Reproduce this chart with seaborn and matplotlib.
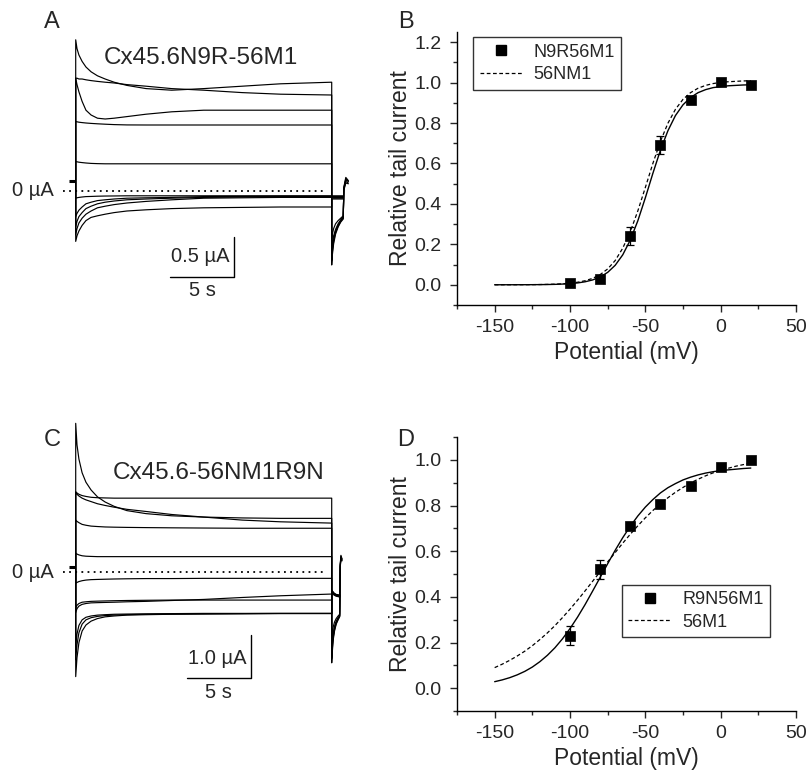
import matplotlib
matplotlib.use("Agg")
import matplotlib.pyplot as plt
from matplotlib.lines import Line2D
from matplotlib.ticker import MultipleLocator, FormatStrFormatter
import pandas as pd
import seaborn as sns

sns.set_style("ticks")
plt.rcParams['font.family'] = ['Liberation Sans', 'DejaVu Sans']
plt.rcParams['axes.unicode_minus'] = False

W, H = 808, 774

# ---------------- current traces (panels A and C) ----------------
step_t = [0, 0.1, 0.25, 0.5, 0.8, 1.2, 1.7, 2.3, 3, 4, 5.5, 7.5, 10, 13, 16, 20]

# panel A: Cx45.6N9R-56M1, currents in uA
a_steps = [
    [1.89, 1.78, 1.70, 1.62, 1.55, 1.49, 1.44, 1.40, 1.36, 1.32, 1.28, 1.26, 1.28, 1.31, 1.34, 1.36],
    [1.41, 1.41, 1.40, 1.40, 1.39, 1.38, 1.37, 1.36, 1.35, 1.33, 1.31, 1.28, 1.26, 1.23, 1.21, 1.20],
    [1.41, 1.33, 1.24, 1.12, 1.01, 0.95, 0.91, 0.90, 0.91, 0.93, 0.96, 0.99, 1.01, 1.01, 1.01, 1.01],
    [0.87, 0.865, 0.86, 0.855, 0.85, 0.845, 0.84, 0.835, 0.83, 0.826, 0.825, 0.825, 0.825, 0.825, 0.825, 0.825],
    [0.37, 0.365, 0.36, 0.355, 0.35, 0.345, 0.342, 0.34, 0.34, 0.34, 0.34, 0.34, 0.34, 0.34, 0.34, 0.34],
    [-0.09, -0.085, -0.08, -0.075, -0.07, -0.068, -0.065, -0.063, -0.062, -0.06, -0.06, -0.06, -0.06, -0.06, -0.06, -0.06],
    [-0.32, -0.28, -0.24, -0.20, -0.16, -0.14, -0.12, -0.11, -0.10, -0.09, -0.085, -0.08, -0.07, -0.068, -0.065, -0.065],
    [-0.45, -0.38, -0.32, -0.27, -0.22, -0.19, -0.16, -0.14, -0.125, -0.11, -0.10, -0.09, -0.08, -0.075, -0.07, -0.07],
    [-0.55, -0.47, -0.40, -0.34, -0.29, -0.25, -0.21, -0.19, -0.17, -0.15, -0.13, -0.11, -0.09, -0.085, -0.08, -0.08],
    [-0.63, -0.56, -0.50, -0.43, -0.37, -0.33, -0.31, -0.29, -0.27, -0.25, -0.235, -0.22, -0.21, -0.205, -0.20, -0.20],
]
a_tail_t = [20, 20.05, 20.15, 20.3, 20.5, 20.7, 20.9]
a_tails = [
    [-0.925, -0.80, -0.66, -0.54, -0.45, -0.39, -0.35],
    [-0.87, -0.76, -0.63, -0.52, -0.44, -0.38, -0.34],
    [-0.82, -0.72, -0.60, -0.50, -0.43, -0.37, -0.33],
    [-0.75, -0.66, -0.56, -0.48, -0.41, -0.36, -0.32],
    [-0.60, -0.54, -0.47, -0.41, -0.37, -0.34, -0.31],
    [-0.07, -0.07, -0.07, -0.07, -0.07, -0.07, -0.07],
    [-0.06, -0.06, -0.06, -0.06, -0.06, -0.06, -0.06],
    [-0.07, -0.075, -0.08, -0.08, -0.08, -0.08, -0.08],
    [-0.08, -0.085, -0.09, -0.09, -0.09, -0.09, -0.09],
    [-0.10, -0.10, -0.10, -0.10, -0.10, -0.10, -0.10],
]
a_flag_t = [20.95, 21.1, 21.3]
a_flags = [
    [0.05, 0.17, 0.13],
    [0.04, 0.15, 0.12],
    [0.03, 0.14, 0.12],
    [0.02, 0.12, 0.10],
    [0.01, 0.10, 0.09],
]

# panel C: Cx45.6-56NM1R9N
c_steps = [
    [3.45, 2.95, 2.62, 2.30, 2.08, 1.90, 1.74, 1.62, 1.52, 1.42, 1.35, 1.30, 1.27, 1.25, 1.24, 1.24],
    [1.86, 1.83, 1.80, 1.77, 1.75, 1.73, 1.72, 1.715, 1.71, 1.71, 1.71, 1.71, 1.71, 1.71, 1.71, 1.71],
    [1.84, 1.80, 1.76, 1.71, 1.67, 1.63, 1.58, 1.54, 1.50, 1.45, 1.40, 1.33, 1.27, 1.20, 1.16, 1.13],
    [1.20, 1.17, 1.14, 1.10, 1.08, 1.06, 1.05, 1.04, 1.035, 1.03, 1.025, 1.02, 1.015, 1.01, 1.01, 1.01],
    [0.43, 0.41, 0.39, 0.37, 0.36, 0.355, 0.35, 0.35, 0.35, 0.35, 0.35, 0.35, 0.35, 0.35, 0.35, 0.35],
    [-0.27, -0.25, -0.23, -0.21, -0.195, -0.185, -0.18, -0.175, -0.17, -0.165, -0.16, -0.16, -0.155, -0.155, -0.155, -0.155],
    [-0.95, -0.86, -0.80, -0.76, -0.74, -0.725, -0.72, -0.715, -0.71, -0.70, -0.69, -0.67, -0.645, -0.60, -0.56, -0.52],
    [-0.85, -0.78, -0.74, -0.71, -0.70, -0.69, -0.685, -0.68, -0.675, -0.67, -0.665, -0.66, -0.66, -0.66, -0.66, -0.66],
    [-1.74, -1.45, -1.25, -1.12, -1.06, -1.03, -1.01, -1.00, -0.99, -0.985, -0.98, -0.975, -0.97, -0.97, -0.97, -0.97],
    [-2.05, -1.70, -1.42, -1.22, -1.12, -1.07, -1.04, -1.02, -1.01, -1.00, -0.99, -0.985, -0.98, -0.975, -0.97, -0.97],
    [-2.44, -2.00, -1.65, -1.38, -1.24, -1.15, -1.09, -1.05, -1.03, -1.01, -1.00, -0.99, -0.985, -0.98, -0.975, -0.975],
]
c_tail_t = [20, 20.05, 20.12, 20.22, 20.35, 20.5, 20.62]
c_tails = [
    [-2.12, -1.85, -1.58, -1.38, -1.22, -1.12, -1.05],
    [-2.02, -1.78, -1.53, -1.35, -1.20, -1.10, -1.04],
    [-1.92, -1.70, -1.48, -1.31, -1.18, -1.09, -1.03],
    [-1.80, -1.61, -1.42, -1.27, -1.15, -1.07, -1.02],
    [-1.55, -1.42, -1.28, -1.17, -1.09, -1.03, -0.99],
    [-0.43, -0.45, -0.48, -0.51, -0.53, -0.54, -0.55],
    [-0.43, -0.45, -0.48, -0.51, -0.53, -0.54, -0.55],
    [-0.45, -0.46, -0.49, -0.52, -0.54, -0.55, -0.56],
    [-0.47, -0.48, -0.50, -0.53, -0.55, -0.56, -0.57],
    [-0.48, -0.49, -0.51, -0.54, -0.56, -0.57, -0.58],
    [-0.50, -0.51, -0.53, -0.55, -0.57, -0.58, -0.59],
]
c_flag_t = [20.66, 20.72, 20.8]
c_flags = [
    [0.15, 0.38, 0.30],
    [0.13, 0.36, 0.29],
    [0.11, 0.34, 0.28],
    [0.10, 0.32, 0.26],
    [0.08, 0.30, 0.25],
]

# ---------------- tail current vs potential (panels B and D) ----------------
v_data = [-100, -80, -60, -40, -20, 0, 20]
b_mean = [0.01, 0.03, 0.24, 0.69, 0.915, 1.005, 0.99]
b_err = [0.01, 0.01, 0.045, 0.045, 0.012, 0.01, 0.01]
d_mean = [0.23, 0.52, 0.71, 0.805, 0.885, 0.97, 1.0]
d_err = [0.042, 0.04, 0.015, 0.01, 0.01, 0.01, 0.01]

v_fit = list(range(-150, 25, 5))
b_fit = [0.0, 0.0001, 0.0001, 0.0002, 0.0003, 0.0005, 0.0008, 0.0013, 0.0021, 0.0035, 0.0056,
         0.0091, 0.0148, 0.0239, 0.0385, 0.0614, 0.0964, 0.148, 0.221, 0.316, 0.430,
         0.551, 0.665, 0.762, 0.837, 0.890, 0.926, 0.950, 0.965, 0.975, 0.980,
         0.984, 0.986, 0.988, 0.989]
b_ref = [0.0001, 0.0001, 0.0002, 0.0003, 0.0005, 0.0007, 0.0012, 0.0019, 0.0030, 0.0049, 0.0078,
         0.0125, 0.0200, 0.0317, 0.0502, 0.0783, 0.120, 0.181, 0.262, 0.365, 0.481,
         0.600, 0.709, 0.799, 0.868, 0.917, 0.950, 0.972, 0.986, 0.995, 1.001,
         1.004, 1.006, 1.008, 1.009]
d_fit = [0.0284, 0.0362, 0.0460, 0.0584, 0.0736, 0.0925, 0.116, 0.144, 0.177, 0.216, 0.261,
         0.311, 0.366, 0.425, 0.485, 0.545, 0.604, 0.659, 0.709, 0.754, 0.793,
         0.826, 0.855, 0.878, 0.896, 0.912, 0.924, 0.934, 0.942, 0.948, 0.953,
         0.956, 0.959, 0.962, 0.964]
d_ref = [0.090, 0.105, 0.122, 0.141, 0.162, 0.186, 0.213, 0.242, 0.274, 0.309, 0.346,
         0.385, 0.426, 0.468, 0.510, 0.553, 0.594, 0.635, 0.674, 0.711, 0.746,
         0.778, 0.807, 0.834, 0.858, 0.879, 0.899, 0.915, 0.930, 0.943, 0.954,
         0.963, 0.972, 0.979, 0.985]


def px(x, y):
    return x / W, 1 - y / H


def traces_frame(steps, tail_t, tails, flag_t, flags):
    rows = []
    for k, (s, tl) in enumerate(zip(steps, tails)):
        ts = [0] + step_t + tail_t
        vs = [0] + s + tl
        if k < len(flags):
            ts = ts + flag_t
            vs = vs + flags[k]
        rows += [dict(trace=k, t=t, I=v) for t, v in zip(ts, vs)]
    return pd.DataFrame(rows)


def trace_panel(ax, df, ylim, bar_uA, bar_t, bar_y, hold):
    sns.lineplot(data=df, x='t', y='I', units='trace', estimator=None, sort=False,
                 color='k', lw=0.85, ax=ax, legend=False)
    ax.plot([-1.0, 19.3], [0, 0], color='k', lw=1.3, ls=(0, (1, 2.4)))
    ax.plot([-0.5, -0.05], [hold, hold], color='k', lw=2.2, solid_capstyle='butt')
    # scale bars
    ax.plot([bar_t - 5, bar_t, bar_t], [bar_y, bar_y, bar_y + bar_uA], color='k', lw=1.0)
    ax.set_xlim(-2.79, 22.21)
    ax.set_ylim(*ylim)
    ax.axis('off')


def iv_panel(ax, mean, err, fit, ref, ylim, yticks):
    sns.lineplot(x=v_fit, y=fit, ax=ax, color='k', lw=1.0, estimator=None, sort=False)
    sns.lineplot(x=v_fit, y=ref, ax=ax, color='k', lw=0.9, estimator=None, sort=False,
                 linestyle=(0, (3, 2)))
    ax.errorbar(v_data, mean, yerr=err, fmt='none', ecolor='k', elinewidth=0.9,
                capsize=3, capthick=0.9, zorder=3)
    sns.scatterplot(x=v_data, y=mean, ax=ax, marker='s', s=50, color='k',
                    edgecolor='k', linewidth=0.5, zorder=4)
    ax.set_xlim(-175, 50)
    ax.set_ylim(*ylim)
    ax.set_xticks([-150, -100, -50, 0, 50])
    ax.set_yticks(yticks)
    ax.yaxis.set_major_formatter(FormatStrFormatter('%.1f'))
    ax.xaxis.set_minor_locator(MultipleLocator(25))
    ax.yaxis.set_minor_locator(MultipleLocator(0.1))
    ax.tick_params(which='major', direction='out', length=5, width=1, labelsize=14, pad=5)
    ax.tick_params(axis='y', which='major', pad=6)
    ax.tick_params(which='minor', direction='out', length=3, width=1)
    for sp in ('left', 'bottom'):
        ax.spines[sp].set_linewidth(1.0)
        ax.spines[sp].set_color('k')
    sns.despine(ax=ax)
    ax.set_xlabel('Potential (mV)', fontsize=16.5, labelpad=4)
    ax.set_ylabel('Relative tail current', fontsize=16.5, labelpad=2)


fig = plt.figure(figsize=(W / 100, H / 100), dpi=100)

# panel A
axA = fig.add_axes([40 / W, 1 - 300 / H, 320 / W, 280 / H])
trace_panel(axA, traces_frame(a_steps, a_tail_t, a_tails, a_flag_t, a_flags),
            (-1.3625, 2.1375), 0.5, 12.37, -1.075, 0.125)

# panel C
axC = fig.add_axes([40 / W, 1 - 720 / H, 320 / W, 310 / H])
trace_panel(axC, traces_frame(c_steps, c_tail_t, c_tails, c_flag_t, c_flags),
            (-3.449, 3.760), 1.0, 13.67, -2.472, 0.12)

# panel B
axB = fig.add_axes([457 / W, 1 - 305 / H, 339 / W, 273 / H])
iv_panel(axB, b_mean, b_err, b_fit, b_ref, (-0.1, 1.25), [0.0, 0.2, 0.4, 0.6, 0.8, 1.0, 1.2])
handles = [Line2D([], [], ls='none', marker='s', ms=7, color='k'),
           Line2D([], [], color='k', lw=0.9, ls=(0, (3, 2)))]
legB = axB.legend(handles, ['N9R56M1', '56NM1'], loc='upper left', bbox_to_anchor=(0.048, 0.98),
                  borderaxespad=0, fontsize=13, frameon=True, fancybox=False, edgecolor='k',
                  handlelength=2.4, handletextpad=0.6, borderpad=0.35, labelspacing=0.3)
legB.get_frame().set_linewidth(1.0)

# panel D
axD = fig.add_axes([457 / W, 1 - 711 / H, 339 / W, 274 / H])
iv_panel(axD, d_mean, d_err, d_fit, d_ref, (-0.1, 1.1), [0.0, 0.2, 0.4, 0.6, 0.8, 1.0])
handles = [Line2D([], [], ls='none', marker='s', ms=7, color='k'),
           Line2D([], [], color='k', lw=0.9, ls=(0, (3, 2)))]
legD = axD.legend(handles, ['R9N56M1', '56M1'], loc='upper left', bbox_to_anchor=(0.486, 0.46),
                  borderaxespad=0, fontsize=13, frameon=True, fancybox=False, edgecolor='k',
                  handlelength=2.4, handletextpad=0.6, borderpad=0.35, labelspacing=0.3)
legD.get_frame().set_linewidth(1.0)

# texts
for lab, (x, y) in zip(['A', 'B', 'C', 'D'], [(52, 22), (406, 22), (52, 440), (406, 440)]):
    fig.text(*px(x, y), lab, fontsize=17, ha='center', va='center')
fig.text(*px(201, 58), 'Cx45.6N9R-56M1', fontsize=17.5, ha='center', va='center')
fig.text(*px(219, 473), 'Cx45.6-56NM1R9N', fontsize=17.5, ha='center', va='center')
fig.text(*px(54, 191), '0 \u00b5A', fontsize=14.5, ha='right', va='center')
fig.text(*px(54, 572), '0 \u00b5A', fontsize=14.5, ha='right', va='center')
fig.text(*px(230, 257), '0.5 \u00b5A', fontsize=14.5, ha='right', va='center')
fig.text(*px(202, 290), '5 s', fontsize=14.5, ha='center', va='center')
fig.text(*px(246, 658), '1.0 \u00b5A', fontsize=14.5, ha='right', va='center')
fig.text(*px(218, 693), '5 s', fontsize=14.5, ha='center', va='center')

fig.savefig('out.png', dpi=100)
